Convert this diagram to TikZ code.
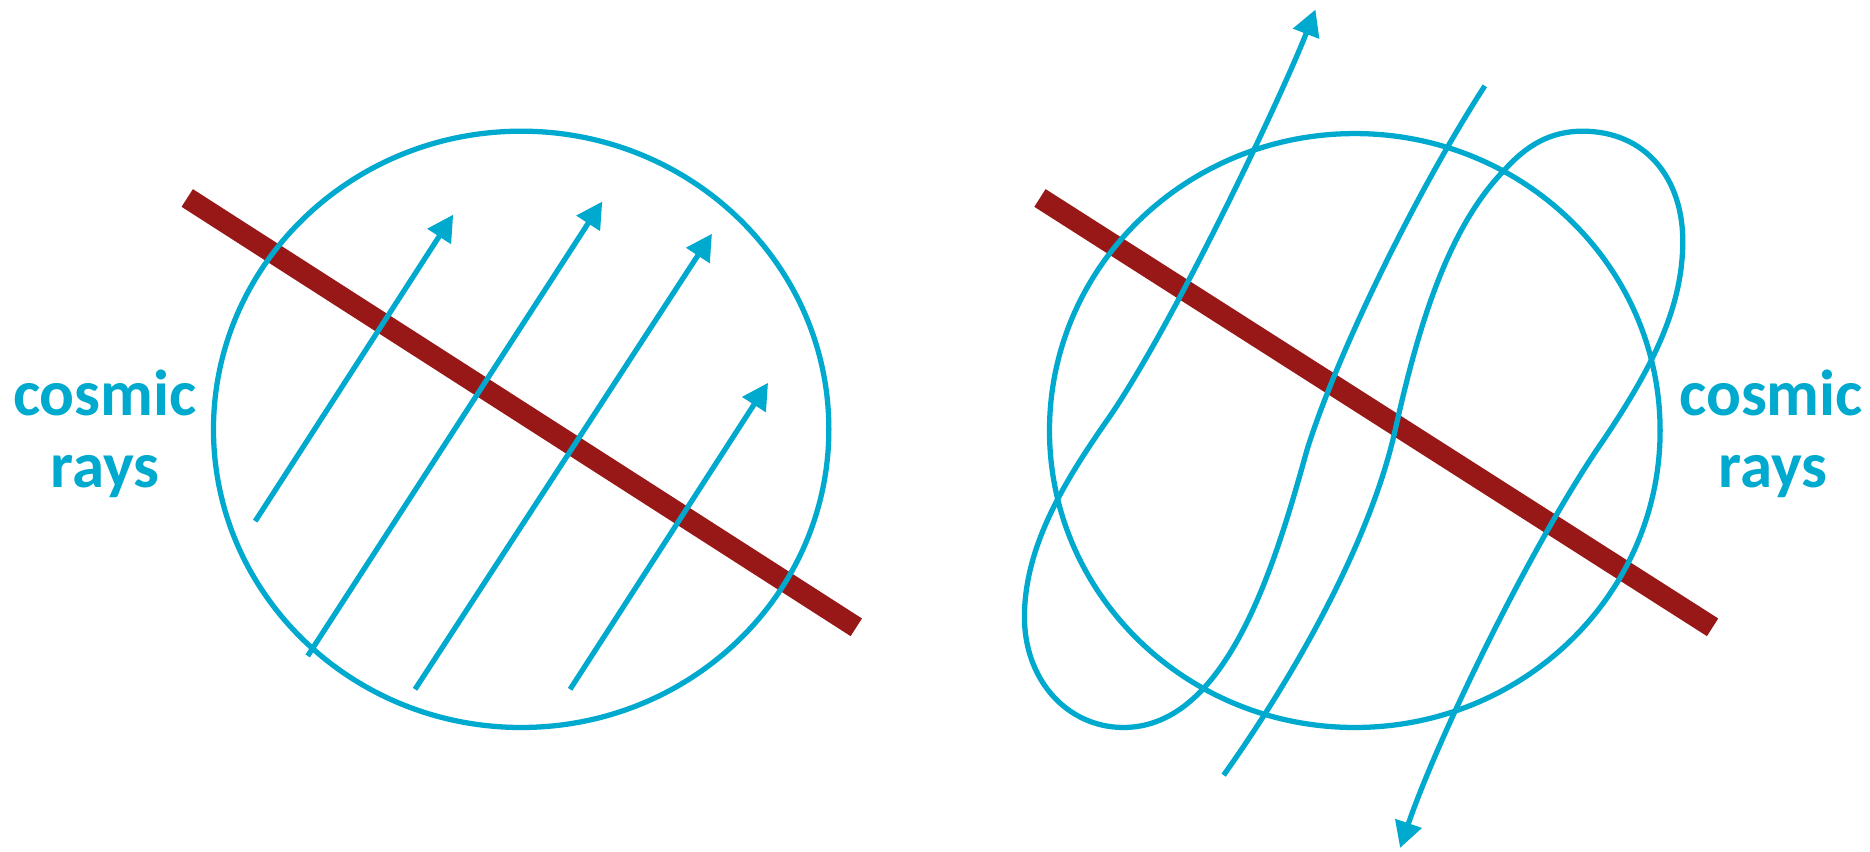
\documentclass[tikz,border=0pt]{standalone}
\usepackage{fontspec}
\setmainfont{Carlito}
\usetikzlibrary{arrows.meta}
\definecolor{raycol}{RGB}{0,169,206}
\definecolor{barcol}{RGB}{152,24,24}

\begin{document}
\begin{tikzpicture}[x=0.011926cm, y=-0.011926cm,
        sample/.style={draw=raycol, line width=1.5pt},
        ray/.style={draw=raycol, line width=1.5pt},
        rayarrow/.style={ray, -{Triangle[length=0.26cm, width=0.27cm]}},
        field/.style={draw=barcol, line width=0.21cm},
        crtext/.style={text=raycol, font=\fontsize{18.5}{21}\selectfont\bfseries, anchor=base, inner sep=0pt}
    ]
        \useasboundingbox (0,0) rectangle (1568,714);

        % (a) straight rays through the sample
        \draw[field] (157,166) -- (718,526);
        \draw[sample] (437,360) ellipse [x radius=258, y radius=250];
        \draw[rayarrow] (214,437) -- (380,180);
        \draw[rayarrow] (258,550) -- (505,169);
        \draw[rayarrow] (348,578) -- (597,196);
        \draw[rayarrow] (478,578) -- (644,321);
        \node[crtext] (crl) at (88,348) {cosmic};
        \node[crtext] (crlb) at (88,409) {rays};

        % (b) curved rays through the sample
        \draw[field] (872,166) -- (1436,526);
        \draw[sample] (1136,361) ellipse [x radius=256, y radius=249];
        \draw[rayarrow] (1245,72) .. controls (1185,165) and (1120,300) .. (1096,377)
            .. controls (1070,470) and (1030,610) .. (942,610)
            .. controls (895,610) and (858,570) .. (859,515)
            .. controls (860,455) and (895,400) .. (930,350)
            .. controls (985,270) and (1075,80) .. (1103,8);
        \draw[rayarrow] (1026,650) .. controls (1090,560) and (1150,450) .. (1170,360)
            .. controls (1190,270) and (1215,190) .. (1262,142)
            .. controls (1280,122) and (1300,110) .. (1327,110)
            .. controls (1380,110) and (1412,150) .. (1411,205)
            .. controls (1410,260) and (1385,310) .. (1339,377)
            .. controls (1280,465) and (1205,620) .. (1174,711);
        \node[crtext] (crr) at (1485,348) {cosmic};
        \node[crtext] (crrb) at (1487,409) {rays};
    \end{tikzpicture}
\end{document}
